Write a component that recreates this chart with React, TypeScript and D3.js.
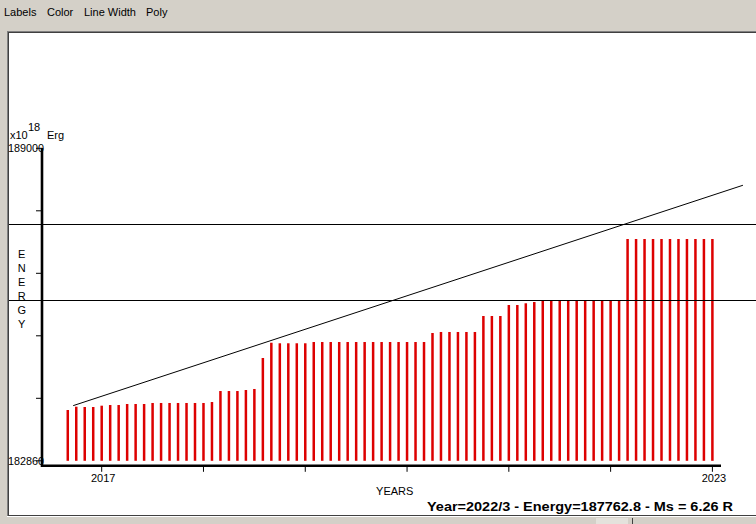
import React from "react";
import * as d3 from "d3";

// Monthly energy values (x10^18 Erg), Sep 2016 .. Jan 2023
const startYear = 2016;
const startMonth = 8; // September (0-based)
const energy: number[] = [
  183858, 183923, 183917, 183917, 183943, 183956, 183956, 183976, 183976, 183976,
  183996, 183996, 183996, 183996, 183996, 183996, 183996, 184015,
  184231, 184231, 184231, 184251, 184271, 184880, 185180,
  185169, 185169, 185169, 185169,
  185194, 185194, 185194, 185194, 185194, 185194, 185194, 185194, 185194, 185194, 185194, 185194, 185194, 185194,
  185371, 185391, 185391, 185391, 185391, 185391,
  185705, 185705, 185705, 185921, 185921, 185955, 185980,
  186006, 186006, 186006, 186006, 186006, 186006, 186006, 186006, 186006, 186006,
  187218, 187218, 187218, 187218, 187218, 187218, 187218, 187218, 187218, 187218, 187218,
];

const yearTicks: number[] = [2017, 2018, 2019, 2020, 2021, 2022, 2023];
const yearLabels: string[] = ["2017", "", "", "", "", "", "2023"];
const energyTicks: number[] = [182860, 184088, 185316, 186544, 187772, 189000];
const energyTickLabels: string[] = ["182860", "", "", "", "", "189000"];
const refLevels: number[] = [187507, 186013];
const trendYears: number[] = [2016.72, 2023.3];
const trendEnergy: number[] = [183944, 188274];
const menuItems: string[] = ["Labels", "Color", "Line Width", "Poly"];
const menuX: number[] = [4, 47, 84, 146];
const yTitle: string[] = ["E", "N", "E", "R", "G", "Y"];
const statusText = "Year=2022/3 - Energy=187762.8 - Ms = 6.26 R";

const W = 756;
const H = 524;
const FONT = "'Liberation Sans', Arial, sans-serif";

export default function App() {
  const x = d3.scaleLinear().domain([2017, 2023]).range([101.7, 712.4]);
  const y = d3.scaleLinear().domain([182860, 189000]).range([460.8, 148.3]);
  const axisX = 42;
  const axisY = 465.8;
  const barData = energy.map((v, i) => ({
    t: startYear + (startMonth + i) / 12,
    v,
  }));
  const trend = d3.line<number>()
    .x((_, i) => x(trendYears[i]))
    .y((d) => y(d));

  return (
    <svg
      width={W}
      height={H}
      style={{ position: "absolute", left: 0, top: 0, display: "block" }}
      fontFamily={FONT}
    >
      <rect x={0} y={0} width={W} height={H} fill="#d4d0c8" />
      {menuItems.map((m, i) => (
        <text key={m} x={menuX[i]} y={15.5} fontSize={11} fill="#000">
          {m}
        </text>
      ))}
      {/* sunken panel */}
      <rect x={7} y={31} width={W - 7} height={486} fill="#808080" />
      <rect x={8} y={32} width={W - 8} height={484} fill="#404040" />
      <rect x={9} y={33} width={W - 9} height={482} fill="#ffffff" />
      <line x1={7} x2={W} y1={516.5} y2={516.5} stroke="#ffffff" />
      <rect x={596} y={518} width={32} height={6} fill="#e4e2dc" />
      <line x1={632.5} x2={632.5} y1={518} y2={524} stroke="#404040" />

      {/* bars */}
      {barData.map((d, i) => (
        <rect
          key={i}
          x={x(d.t) - 1.25}
          y={y(d.v)}
          width={2.5}
          height={y(182860) - y(d.v)}
          fill="#dd0000"
        />
      ))}

      {/* reference lines */}
      {refLevels.map((v, i) => (
        <line key={i} x1={9} x2={W} y1={Math.round(y(v)) + 0.5} y2={Math.round(y(v)) + 0.5} stroke="#000" strokeWidth={1} />
      ))}

      {/* trend line */}
      <path d={trend(trendEnergy) || ""} fill="none" stroke="#000" strokeWidth={1} />

      {/* axes */}
      <line x1={axisX} x2={axisX} y1={148} y2={axisY + 1.2} stroke="#000" strokeWidth={2.6} />
      <line x1={axisX - 1} x2={721} y1={axisY} y2={axisY} stroke="#000" strokeWidth={2.6} />
      {energyTicks.map((v, i) => (
        <g key={i}>
          <line x1={axisX - 6} x2={axisX} y1={y(v)} y2={y(v)} stroke="#000" strokeWidth={1} />
          {energyTickLabels[i] && (
            <text x={8} y={y(v) + 4} fontSize={11} fill="#000" textLength={36} lengthAdjust="spacingAndGlyphs">
              {energyTickLabels[i]}
            </text>
          )}
        </g>
      ))}
      {yearTicks.map((t, i) => (
        <g key={t}>
          <line x1={x(t)} x2={x(t)} y1={axisY} y2={axisY + 6} stroke="#000" strokeWidth={1} />
          {yearLabels[i] && (
            <text x={x(t) + 1.5} y={482} fontSize={11} textAnchor="middle" fill="#000">
              {yearLabels[i]}
            </text>
          )}
        </g>
      ))}

      {/* unit label */}
      <text x={10} y={139} fontSize={11} fill="#000">x10</text>
      <text x={28} y={131} fontSize={11} fill="#000">18</text>
      <text x={47} y={139} fontSize={11} fill="#000">Erg</text>

      {/* y title */}
      {yTitle.map((c, i) => (
        <text key={i} x={21.7} y={258 + i * 14} fontSize={11} textAnchor="middle" fill="#000">
          {c}
        </text>
      ))}

      <text x={394.7} y={495} fontSize={11} textAnchor="middle" fill="#000">YEARS</text>

      <text
        x={427}
        y={510.5}
        fontSize={13}
        fontWeight="bold"
        fill="#000"
        textLength={306}
        lengthAdjust="spacingAndGlyphs"
      >
        {statusText}
      </text>
    </svg>
  );
}
